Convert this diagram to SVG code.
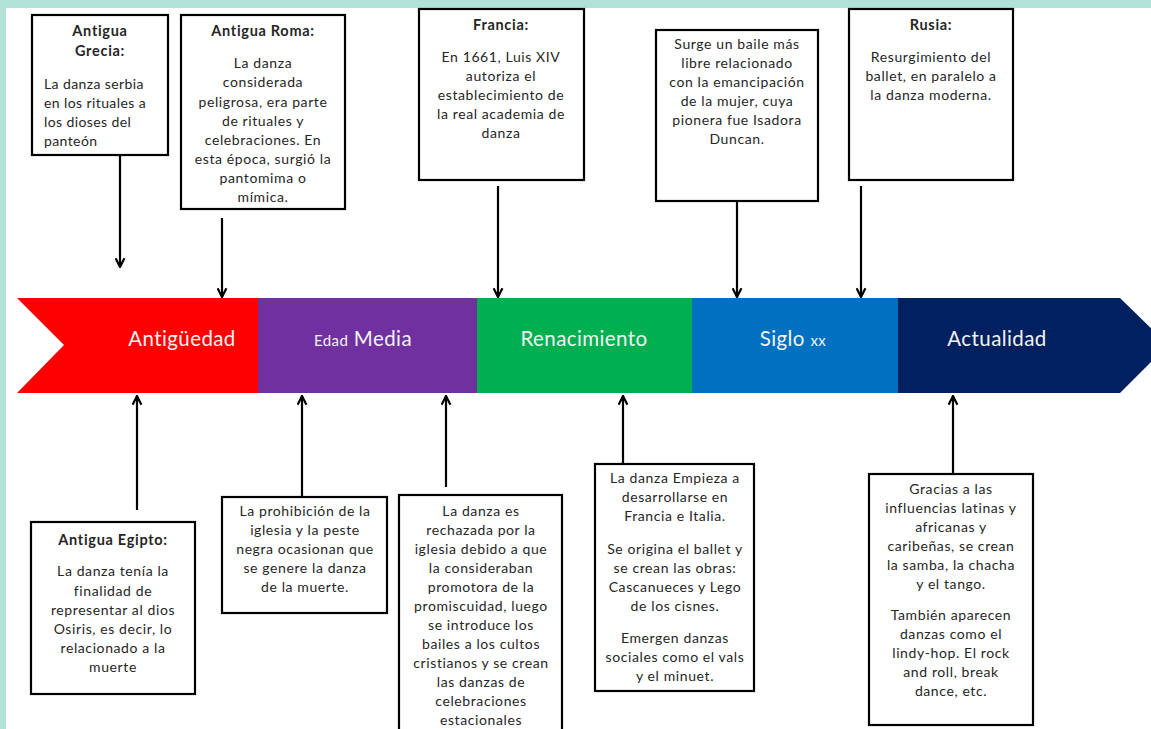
<svg xmlns="http://www.w3.org/2000/svg" width="1151" height="729" viewBox="0 0 1151 729">
<style>
.box{fill:#fff;stroke:#000;stroke-width:2.2}
.t{font-family:Lato,"Liberation Sans",sans-serif;font-size:14px;letter-spacing:0.6px;fill:#262626;text-anchor:middle}
.tl{font-family:Lato,"Liberation Sans",sans-serif;font-size:14px;letter-spacing:0.4px;fill:#262626;text-anchor:start}
.b{font-weight:bold;font-size:14.5px;letter-spacing:0.7px}
.bar{font-family:Lato,"Liberation Sans",sans-serif;font-size:20.5px;letter-spacing:0.4px;fill:#f2f2f2;text-anchor:middle}
.sm{font-size:15px}
.c{stroke:#000;stroke-width:2.2;fill:none;marker-end:url(#ah)}
</style>
<defs>
<marker id="ah" viewBox="0 0 10 10" refX="9" refY="5" markerWidth="5" markerHeight="5" orient="auto" markerUnits="strokeWidth">
<path d="M1,1 L9,5 L1,9" fill="none" stroke="#000" stroke-width="2"/>
</marker>
</defs>
<rect width="1151" height="729" fill="#fff"/>
<rect x="0" y="0" width="1151" height="8" fill="#b0e3d5"/>
<rect x="0" y="0" width="6" height="729" fill="#b0e3d5"/>

<g id="timeline">
<polygon points="17,298 258,298 258,393 17,393 64,345" fill="#ff0000"/>
<rect x="258" y="298" width="219" height="95" fill="#7030a0"/>
<rect x="477" y="298" width="215" height="95" fill="#00b050"/>
<rect x="692" y="298" width="206" height="95" fill="#0070c0"/>
<polygon points="898,298 1120,298 1168,345 1120,393 898,393" fill="#002060"/>
<text class="bar" x="182" y="346">Antigüedad</text>
<text class="bar" x="363" y="346"><tspan class="sm">Edad</tspan> Media</text>
<text class="bar" x="584" y="346">Renacimiento</text>
<text class="bar" x="793" y="346">Siglo <tspan class="sm">xx</tspan></text>
<text class="bar" x="997" y="346">Actualidad</text>
</g>

<g id="connectors">
<line class="c" x1="120" y1="155" x2="120" y2="267"/>
<line class="c" x1="222" y1="218" x2="222" y2="297"/>
<line class="c" x1="498" y1="186" x2="498" y2="297"/>
<line class="c" x1="737" y1="201" x2="737" y2="297"/>
<line class="c" x1="861" y1="186" x2="861" y2="297"/>
<line class="c" x1="137" y1="510" x2="137" y2="396"/>
<line class="c" x1="302" y1="497" x2="302" y2="396"/>
<line class="c" x1="446" y1="487" x2="446" y2="396"/>
<line class="c" x1="623" y1="464" x2="623" y2="396"/>
<line class="c" x1="953" y1="474" x2="953" y2="396"/>
</g>

<g id="grecia">
<rect class="box" x="32" y="15" width="136" height="140"/>
<text class="t b" x="100" y="36">Antigua</text>
<text class="t b" x="100" y="56">Grecia:</text>
<text class="tl" x="44" y="89">La danza serbia</text>
<text class="tl" x="44" y="108">en los rituales a</text>
<text class="tl" x="44" y="127">los dioses del</text>
<text class="tl" x="44" y="146">panteón</text>
</g>

<g id="roma">
<rect class="box" x="181" y="15" width="164" height="194"/>
<text class="t b" x="263" y="36">Antigua Roma:</text>
<text class="t" x="263" y="68">La danza</text>
<text class="t" x="263" y="87">considerada</text>
<text class="t" x="263" y="107">peligrosa, era parte</text>
<text class="t" x="263" y="126">de rituales y</text>
<text class="t" x="263" y="145">celebraciones. En</text>
<text class="t" x="263" y="164">esta época, surgió la</text>
<text class="t" x="263" y="183">pantomima o</text>
<text class="t" x="263" y="202">mímica.</text>
</g>

<g id="francia">
<rect class="box" x="419" y="9" width="165" height="171"/>
<text class="t b" x="501" y="30">Francia:</text>
<text class="t" x="501" y="62">En 1661, Luis XIV</text>
<text class="t" x="501" y="81">autoriza el</text>
<text class="t" x="501" y="100">establecimiento de</text>
<text class="t" x="501" y="119">la real academia de</text>
<text class="t" x="501" y="138">danza</text>
</g>

<g id="siglo20">
<rect class="box" x="656" y="30" width="162" height="171"/>
<text class="t" x="737" y="49">Surge un baile más</text>
<text class="t" x="737" y="68">libre relacionado</text>
<text class="t" x="737" y="87">con la emancipación</text>
<text class="t" x="737" y="106">de la mujer, cuya</text>
<text class="t" x="737" y="125">pionera fue Isadora</text>
<text class="t" x="737" y="144">Duncan.</text>
</g>

<g id="rusia">
<rect class="box" x="849" y="9" width="164" height="171"/>
<text class="t b" x="931" y="30">Rusia:</text>
<text class="t" x="931" y="62">Resurgimiento del</text>
<text class="t" x="931" y="81">ballet, en paralelo a</text>
<text class="t" x="931" y="100">la danza moderna.</text>
</g>

<g id="egipto">
<rect class="box" x="31" y="522" width="164" height="172"/>
<text class="t b" x="113" y="545">Antigua Egipto:</text>
<text class="t" x="113" y="576">La danza tenía la</text>
<text class="t" x="113" y="596">finalidad de</text>
<text class="t" x="113" y="615">representar al dios</text>
<text class="t" x="113" y="634">Osiris, es decir, lo</text>
<text class="t" x="113" y="653">relacionado a la</text>
<text class="t" x="113" y="672">muerte</text>
</g>

<g id="edadmedia1">
<rect class="box" x="222" y="497" width="165" height="116"/>
<text class="t" x="305" y="516">La prohibición de la</text>
<text class="t" x="305" y="535">iglesia y la peste</text>
<text class="t" x="305" y="554">negra ocasionan que</text>
<text class="t" x="305" y="573">se genere la danza</text>
<text class="t" x="305" y="592">de la muerte.</text>
</g>

<g id="edadmedia2">
<rect class="box" x="399" y="495" width="163" height="240"/>
<text class="t" x="481" y="516">La danza es</text>
<text class="t" x="481" y="535">rechazada por la</text>
<text class="t" x="481" y="554">iglesia debido a que</text>
<text class="t" x="481" y="573">la consideraban</text>
<text class="t" x="481" y="592">promotora de la</text>
<text class="t" x="481" y="611">promiscuidad, luego</text>
<text class="t" x="481" y="630">se introduce los</text>
<text class="t" x="481" y="649">bailes a los cultos</text>
<text class="t" x="481" y="668">cristianos y se crean</text>
<text class="t" x="481" y="687">las danzas de</text>
<text class="t" x="481" y="706">celebraciones</text>
<text class="t" x="481" y="725">estacionales</text>
</g>

<g id="renacimiento">
<rect class="box" x="595" y="464" width="159" height="227"/>
<text class="t" x="675" y="483">La danza Empieza a</text>
<text class="t" x="675" y="502">desarrollarse en</text>
<text class="t" x="675" y="521">Francia e Italia.</text>
<text class="t" x="675" y="554">Se origina el ballet y</text>
<text class="t" x="675" y="573">se crean las obras:</text>
<text class="t" x="675" y="592">Cascanueces y Lego</text>
<text class="t" x="675" y="611">de los cisnes.</text>
<text class="t" x="675" y="643">Emergen danzas</text>
<text class="t" x="675" y="662">sociales como el vals</text>
<text class="t" x="675" y="681">y el minuet.</text>
</g>

<g id="actualidad">
<rect class="box" x="869" y="474" width="164" height="251"/>
<text class="t" x="951" y="494">Gracias a las</text>
<text class="t" x="951" y="513">influencias latinas y</text>
<text class="t" x="951" y="532">africanas y</text>
<text class="t" x="951" y="551">caribeñas, se crean</text>
<text class="t" x="951" y="570">la samba, la chacha</text>
<text class="t" x="951" y="589">y el tango.</text>
<text class="t" x="951" y="620">También aparecen</text>
<text class="t" x="951" y="639">danzas como el</text>
<text class="t" x="951" y="658">lindy-hop. El rock</text>
<text class="t" x="951" y="677">and roll, break</text>
<text class="t" x="951" y="696">dance, etc.</text>
</g>
</svg>
